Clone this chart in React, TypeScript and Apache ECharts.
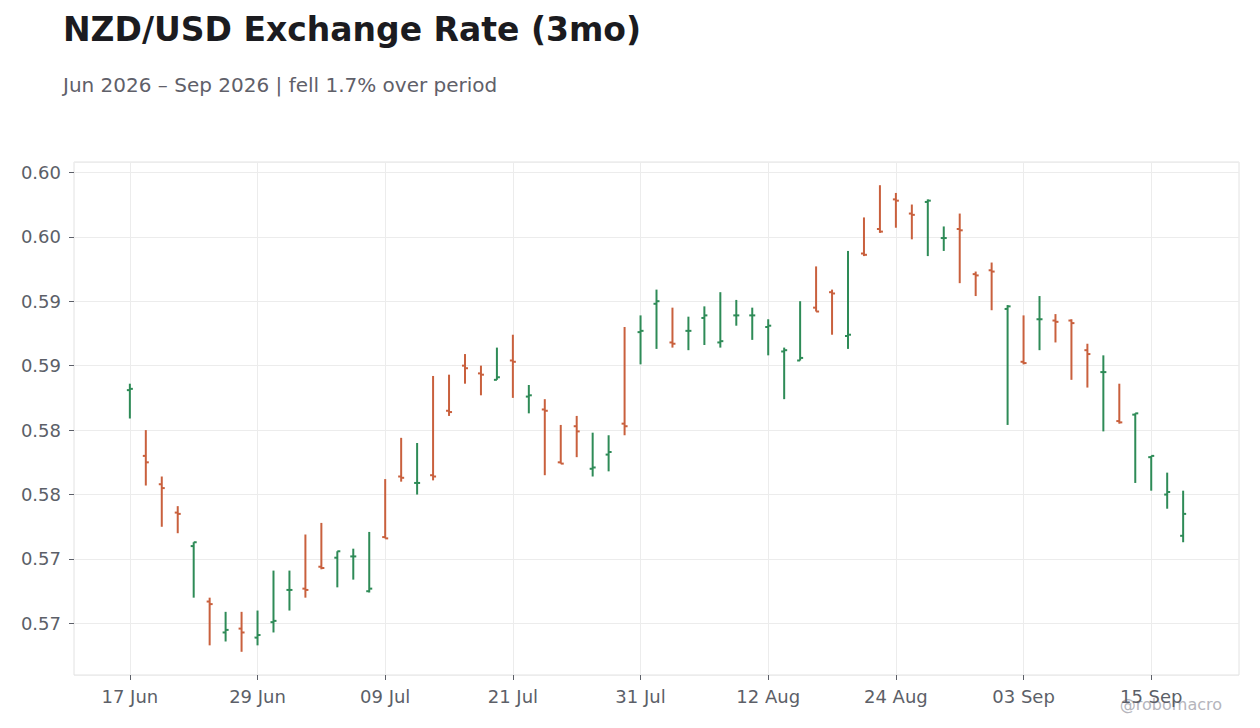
import React, { useEffect, useRef } from 'react';
import * as echarts from 'echarts';

// business days, 17 Jun - 17 Sep 2026
const dates = [
  '17 Jun', '18 Jun', '19 Jun', '22 Jun', '23 Jun', '24 Jun', '25 Jun', '26 Jun', '29 Jun', '30 Jun',
  '01 Jul', '02 Jul', '03 Jul', '06 Jul', '07 Jul', '08 Jul', '09 Jul', '10 Jul', '13 Jul', '14 Jul',
  '15 Jul', '16 Jul', '17 Jul', '20 Jul', '21 Jul', '22 Jul', '23 Jul', '24 Jul', '27 Jul', '28 Jul',
  '29 Jul', '30 Jul', '31 Jul',
  '03 Aug', '04 Aug', '05 Aug', '06 Aug', '07 Aug', '10 Aug', '11 Aug', '12 Aug', '13 Aug', '14 Aug',
  '17 Aug', '18 Aug', '19 Aug', '20 Aug', '21 Aug', '24 Aug', '25 Aug', '26 Aug', '27 Aug', '28 Aug',
  '31 Aug',
  '01 Sep', '02 Sep', '03 Sep', '04 Sep', '07 Sep', '08 Sep', '09 Sep', '10 Sep', '11 Sep', '14 Sep',
  '15 Sep', '16 Sep', '17 Sep',
];

const opens = [
  0.5881, 0.5830, 0.5808, 0.5786, 0.5760, 0.5717, 0.5693, 0.5696, 0.5689, 0.5701,
  0.5726, 0.5727, 0.5744, 0.5751, 0.5752, 0.5725, 0.5767, 0.5814, 0.5809, 0.5815,
  0.5865, 0.5900, 0.5894, 0.5889, 0.5904, 0.5876, 0.5866, 0.5825, 0.5853, 0.5820,
  0.5831, 0.5855, 0.5926, 0.5948, 0.5918, 0.5927, 0.5937, 0.5918, 0.5939, 0.5939,
  0.5930, 0.5911, 0.5904, 0.5945, 0.5957, 0.5923, 0.5987, 0.6006, 0.6029, 0.6018,
  0.6027, 0.5999, 0.6006, 0.5971, 0.5974, 0.5944, 0.5903, 0.5936, 0.5935, 0.5935,
  0.5912, 0.5895, 0.5857, 0.5862, 0.5829, 0.5800, 0.5768,
];

const highs = [
  0.5886, 0.5850, 0.5814, 0.5791, 0.5763, 0.5720, 0.5709, 0.5709, 0.5710, 0.5741,
  0.5741, 0.5769, 0.5778, 0.5756, 0.5758, 0.5771, 0.5812, 0.5844, 0.5840, 0.5892,
  0.5893, 0.5909, 0.5900, 0.5914, 0.5924, 0.5885, 0.5874, 0.5854, 0.5861, 0.5848,
  0.5846, 0.5930, 0.5939, 0.5959, 0.5945, 0.5938, 0.5946, 0.5957, 0.5951, 0.5945,
  0.5936, 0.5914, 0.5950, 0.5977, 0.5959, 0.5989, 0.6015, 0.6040, 0.6034, 0.6025,
  0.6029, 0.6008, 0.6018, 0.5973, 0.5980, 0.5947, 0.5939, 0.5954, 0.5940, 0.5936,
  0.5917, 0.5908, 0.5886, 0.5863, 0.5830, 0.5817, 0.5803,
];

const lows = [
  0.5859, 0.5807, 0.5775, 0.5770, 0.5720, 0.5683, 0.5686, 0.5678, 0.5683, 0.5693,
  0.5710, 0.5720, 0.5742, 0.5728, 0.5734, 0.5724, 0.5766, 0.5810, 0.5800, 0.5811,
  0.5861, 0.5886, 0.5877, 0.5889, 0.5875, 0.5863, 0.5815, 0.5824, 0.5829, 0.5814,
  0.5818, 0.5846, 0.5901, 0.5913, 0.5914, 0.5912, 0.5916, 0.5914, 0.5931, 0.5920,
  0.5908, 0.5874, 0.5904, 0.5942, 0.5924, 0.5913, 0.5985, 0.6003, 0.6007, 0.5998,
  0.5985, 0.5989, 0.5964, 0.5954, 0.5943, 0.5854, 0.5901, 0.5912, 0.5918, 0.5889,
  0.5883, 0.5849, 0.5855, 0.5809, 0.5803, 0.5789, 0.5763,
];

const closes = [
  0.5882, 0.5825, 0.5805, 0.5785, 0.5763, 0.5715, 0.5695, 0.5693, 0.5691, 0.5702,
  0.5726, 0.5726, 0.5743, 0.5756, 0.5752, 0.5727, 0.5766, 0.5813, 0.5809, 0.5814,
  0.5864, 0.5898, 0.5893, 0.5891, 0.5903, 0.5877, 0.5865, 0.5824, 0.5849, 0.5821,
  0.5833, 0.5853, 0.5927, 0.5950, 0.5917, 0.5927, 0.5939, 0.5919, 0.5939, 0.5939,
  0.5931, 0.5912, 0.5906, 0.5942, 0.5956, 0.5924, 0.5986, 0.6004, 0.6028, 0.6017,
  0.6028, 0.5999, 0.6005, 0.5970, 0.5973, 0.5946, 0.5902, 0.5936, 0.5934, 0.5933,
  0.5909, 0.5895, 0.5856, 0.5863, 0.5830, 0.5802, 0.5785,
];

const PAD = 3;
const LABEL_EVERY = 8;
const UP = '#2e8b57';
const DOWN = '#c9603d';
const FONT = 'DejaVu Sans';

const axisCats = [
  ...Array(PAD).fill(''),
  ...dates,
  ...Array(PAD).fill(''),
];

const showAt = (idx: number) =>
  idx >= PAD && idx < PAD + dates.length && (idx - PAD) % LABEL_EVERY === 0;

export default function App() {
  const ref = useRef<HTMLDivElement>(null);

  useEffect(() => {
    if (!ref.current) return;
    document.body.style.margin = '0';
    const chart = echarts.init(ref.current, undefined, { renderer: 'svg' });

    const data = dates.map((_, i) => [i + PAD, opens[i], closes[i], lows[i], highs[i]]);

    chart.setOption({
      animation: false,
      backgroundColor: '#ffffff',
      textStyle: { fontFamily: FONT },
      title: [
        {
          text: 'NZD/USD Exchange Rate (3mo)',
          left: 63,
          top: 13,
          padding: 0,
          textStyle: { fontFamily: FONT, fontSize: 33, fontWeight: 'bold', color: '#1b1b20' },
        },
        {
          text: 'Jun 2026 – Sep 2026 | fell 1.7% over period',
          left: 63,
          top: 75,
          padding: 0,
          textStyle: { fontFamily: FONT, fontSize: 20, fontWeight: 'normal', color: '#5f6069' },
        },
      ],
      graphic: [
        {
          type: 'text',
          right: 38,
          top: 696,
          style: { text: '@robomacro', fontFamily: FONT, fontSize: 16, fill: '#b5b5bc' },
        },
      ],
      grid: { left: 74, right: 21, top: 162, bottom: 53, show: true, borderColor: '#e2e2e2', borderWidth: 1 },
      xAxis: {
        type: 'category',
        data: axisCats,
        boundaryGap: true,
        axisLine: { show: false },
        axisTick: {
          show: true,
          alignWithLabel: true,
          interval: (idx: number) => showAt(idx),
          length: 5,
          lineStyle: { color: '#5c5f68' },
        },
        axisLabel: {
          interval: (idx: number) => showAt(idx),
          margin: 12,
          fontSize: 18,
          color: '#5c5f68',
          fontFamily: FONT,
        },
        splitLine: {
          show: true,
          alignWithLabel: true,
          interval: (idx: number) => showAt(idx),
          lineStyle: { color: '#ececec', width: 1 },
        },
      },
      yAxis: {
        type: 'value',
        min: 0.566,
        max: 0.6058,
        splitNumber: 8,
        axisLine: { show: false },
        axisTick: { show: true, length: 5, lineStyle: { color: '#5c5f68' } },
        axisLabel: {
          showMinLabel: false,
          showMaxLabel: false,
          margin: 13,
          fontSize: 18,
          color: '#5c5f68',
          fontFamily: FONT,
          formatter: (v: number) => v.toFixed(2),
        },
        splitLine: { show: true, lineStyle: { color: '#ececec', width: 1 } },
      },
      series: [
        {
          type: 'custom',
          name: 'NZD/USD',
          data,
          dimensions: ['idx', 'open', 'close', 'low', 'high'],
          encode: { x: 0, y: [1, 2, 3, 4] },
          renderItem: (params: any, api: any) => {
            const idx = api.value(0);
            const o = api.value(1);
            const c = api.value(2);
            const l = api.value(3);
            const h = api.value(4);
            const pH = api.coord([idx, h]);
            const pL = api.coord([idx, l]);
            const pO = api.coord([idx, o]);
            const pC = api.coord([idx, c]);
            const style = { stroke: c >= o ? UP : DOWN, lineWidth: 2 };
            return {
              type: 'group',
              children: [
                { type: 'line', shape: { x1: pH[0], y1: pH[1], x2: pL[0], y2: pL[1] }, style },
                { type: 'line', shape: { x1: pO[0] - 3, y1: pO[1], x2: pO[0], y2: pO[1] }, style },
                { type: 'line', shape: { x1: pC[0], y1: pC[1], x2: pC[0] + 3, y2: pC[1] }, style },
              ],
            };
          },
        },
      ],
    });

    return () => {
      chart.dispose();
    };
  }, []);

  return <div ref={ref} style={{ width: 1260, height: 728 }} />;
}
